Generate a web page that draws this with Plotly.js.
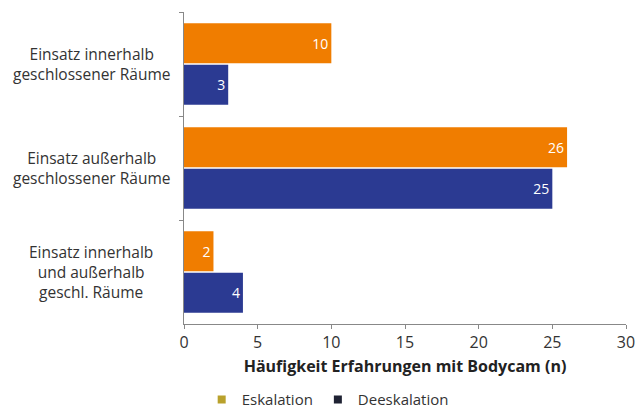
<!DOCTYPE html>
<html>
<head>
<meta charset="utf-8">
<script src="https://cdn.plot.ly/plotly-3.0.1.min.js"></script>
<style>
  html, body { margin: 0; padding: 0; background: white; }
  #chart { width: 642px; height: 412px; }
</style>
</head>
<body>
<div id="chart"></div>
<script>
// categories (top to bottom)
const categories = [
    'Einsatz innerhalb<br>geschlossener Räume',
    'Einsatz außerhalb<br>geschlossener Räume',
    'Einsatz innerhalb<br>und außerhalb<br>geschl. Räume'
];
const seriesNames = ['Eskalation', 'Deeskalation'];
const eskalation = [10, 26, 2];
const deeskalation = [3, 25, 4];

const fontFamily = '"Open Sans", "Noto Sans", sans-serif';
const barColors = ['#f07d00', '#2b3a92'];
const legendColors = ['#b9a12c', '#1f2233'];

function barTrace(name, values, color) {
    return {
        type: 'bar',
        orientation: 'h',
        name: name,
        y: categories,
        x: values,
        text: values.map(String),
        textposition: 'inside',
        insidetextanchor: 'end',
        textfont: { color: 'white', size: 14, family: fontFamily },
        marker: { color: color },
        showlegend: false,
        hoverinfo: 'x+name'
    };
}

// legend-only entries with small square markers
function legendTrace(name, color) {
    return {
        type: 'scatter',
        mode: 'markers',
        name: name,
        x: [null],
        y: [null],
        marker: { symbol: 'square', size: 8, color: color },
        showlegend: true,
        hoverinfo: 'skip'
    };
}

const traces = [
    barTrace(seriesNames[0], eskalation, barColors[0]),
    barTrace(seriesNames[1], deeskalation, barColors[1]),
    legendTrace(seriesNames[0], legendColors[0]),
    legendTrace(seriesNames[1], legendColors[1])
];

// centred category labels left of the axis
const annotations = categories.map(c => ({
    xref: 'paper',
    yref: 'y',
    x: -0.21,
    y: c,
    text: c,
    showarrow: false,
    align: 'center',
    xanchor: 'center',
    yanchor: 'middle',
    font: { size: 15.5, color: '#333', family: fontFamily }
}));

const layout = {
    width: 642,
    height: 412,
    barmode: 'group',
    bargap: 0.2,
    bargroupgap: 0.04,
    paper_bgcolor: 'white',
    plot_bgcolor: 'white',
    margin: { t: 12, r: 16, b: 88, l: 184, autoexpand: false },
    font: { family: fontFamily, color: '#333', size: 16 },
    annotations: annotations,
    xaxis: {
        range: [0, 30],
        dtick: 5,
        showgrid: false,
        zeroline: false,
        showline: true,
        linecolor: '#888',
        ticks: 'outside',
        ticklen: 4,
        tickcolor: '#888',
        tickfont: { size: 16, color: '#333' },
        title: {
            text: '<b>Häufigkeit Erfahrungen mit Bodycam (n)</b>',
            font: { size: 16, color: '#222' },
            standoff: 8
        }
    },
    yaxis: {
        autorange: 'reversed',
        showgrid: false,
        showline: true,
        linecolor: '#888',
        ticks: 'outside',
        tickson: 'boundaries',
        ticklen: 4,
        tickcolor: '#888',
        showticklabels: false
    },
    legend: {
        orientation: 'h',
        x: 0.04,
        xanchor: 'left',
        yref: 'container',
        y: 0.03,
        yanchor: 'middle',
        font: { size: 15, color: '#333' },
        itemwidth: 30,
        traceorder: 'normal'
    },
    showlegend: true
};

Plotly.newPlot('chart', traces, layout, { displayModeBar: false, responsive: false });
</script>
</body>
</html>
